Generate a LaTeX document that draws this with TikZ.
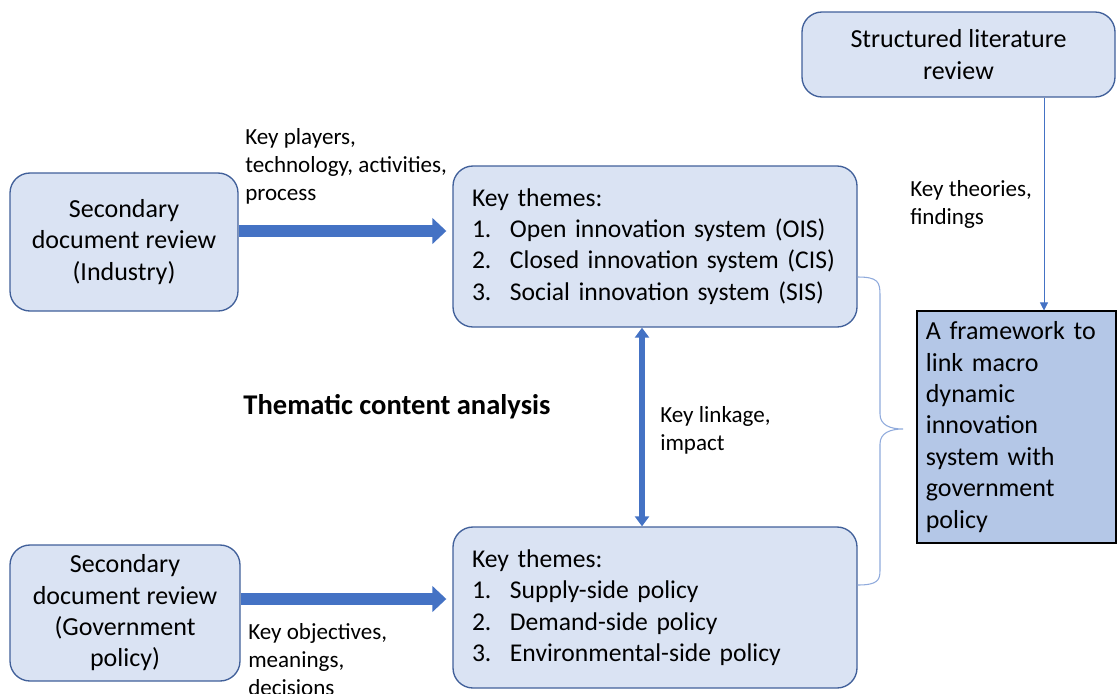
\documentclass[tikz,border=0pt]{standalone}
\usepackage{fontspec}
\setmainfont{Carlito}
\usetikzlibrary{arrows.meta}
\definecolor{boxfill}{HTML}{DAE3F3}
\definecolor{boxline}{HTML}{41609A}
\definecolor{arblue}{HTML}{4472C4}
\definecolor{bracecol}{HTML}{8FAADC}
\definecolor{framefill}{HTML}{B4C7E7}
\newcommand{\themeitem}[2]{\mbox{\makebox[28.5pt][l]{#1}#2}}

\begin{document}
\begin{tikzpicture}[x=0.75pt,y=-0.75pt,
  box/.style={draw=boxline, fill=boxfill, line width=1pt, rounded corners=15pt, align=center, font=\fontsize{19.5}{23.5}\selectfont},
  themes/.style={box, align=left, text width=274.5pt, inner xsep=14.25pt, font=\fontsize{19.2}{23.5}\selectfont},
  lbl/.style={inner sep=0pt, align=left, font=\fontsize{17.3}{21}\selectfont},
  fat/.style={draw=arblue, line width=9pt, -{Triangle[length=10.5pt,width=19pt]}},
  dbl/.style={draw=arblue, line width=4.5pt, {Triangle[length=7.5pt,width=10.5pt]}-{Triangle[length=7.5pt,width=10.5pt]}},
  ar/.style={draw=arblue, line width=0.6pt, -{Triangle[length=6pt,width=6pt]}}]
  \useasboundingbox (0,0) rectangle (1117,693);

  \node[box, minimum width=234.75pt, minimum height=63.75pt] (lit) at (958.5,54.5) {Structured literature\\review};
  \node[box, minimum width=171pt, minimum height=103.5pt] (ind) at (124,242) {Secondary\\document review\\(Industry)};
  \node[box, minimum width=172.5pt, minimum height=102pt] (gov) at (125,613) {Secondary\\document review\\(Government\\policy)};
  \node[themes, minimum width=303pt, minimum height=120.75pt] (kt1) at (655,246.5) {Key themes:\\\themeitem{1.}{Open innovation system (OIS)}\\\themeitem{2.}{Closed innovation system (CIS)}\\\themeitem{3.}{Social innovation system (SIS)}};
  \node[themes, minimum width=303pt, minimum height=120.75pt] (kt2) at (655,607.5) {Key themes:\\\themeitem{1.}{Supply-side policy}\\\themeitem{2.}{Demand-side policy}\\\themeitem{3.}{Environmental-side policy}};
  \node[draw=black, fill=framefill, line width=0.8pt, minimum width=149.25pt, minimum height=174pt, text width=136pt, align=left, font=\fontsize{19.5}{23.6}\selectfont] (frame) at (1016.5,427) {A framework to\\link macro\\dynamic\\innovation\\system with\\government\\policy};

  \node[lbl, anchor=west] (kp) at (245,166) {Key players,\\technology, activities,\\process};
  \node[lbl, anchor=west] (kt) at (910,204) {Key theories,\\findings};
  \node[lbl, anchor=west] (kl) at (660,430) {Key linkage,\\impact};
  \node[lbl, anchor=west] (ko) at (248,660) {Key objectives,\\meanings,\\decisions};
  \node[font=\bfseries\fontsize{21.4}{25}\selectfont] (tca) at (397,407) {Thematic content analysis};

  \draw[fat, shorten >=4.5pt] (ind.east |- 0,231) -- (kt1.west |- 0,231);
  \draw[fat, shorten >=4.5pt] (gov.east |- 0,599) -- (kt2.west |- 0,599);
  \draw[dbl] (kt1.south -| 642,0) -- (kt2.north -| 642,0);
  \draw[ar] (lit.south -| 1044,0) -- (frame.north -| 1044,0);

  \draw[bracecol, line width=0.8pt] (kt1.east |- 0,277) .. controls (878,277) and (880,282) .. (880,295)
    -- (880,414) .. controls (880,425) and (890,429) .. (903,429)
    .. controls (890,429) and (880,433) .. (880,444)
    -- (880,570) .. controls (880,580) and (878,585) .. (kt2.east |- 0,585);
\end{tikzpicture}
\end{document}
